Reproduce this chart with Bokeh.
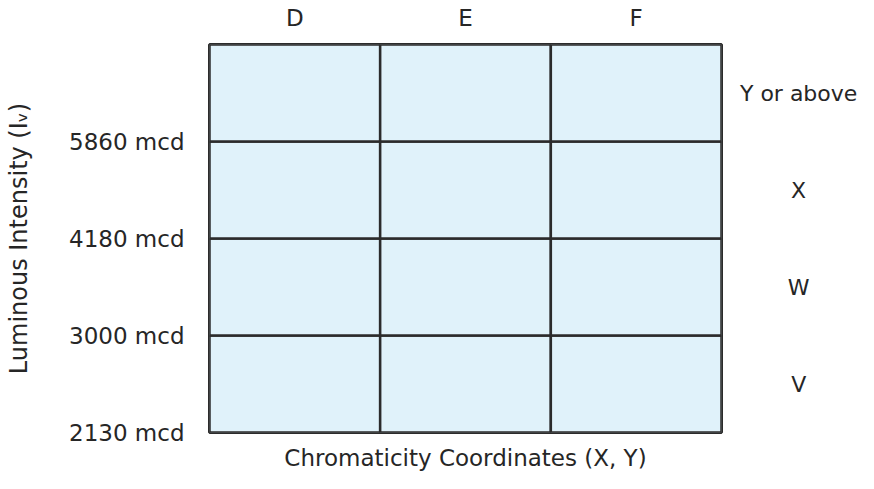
from bokeh.plotting import figure
from bokeh.models import Range1d, LinearAxis, FixedTicker, ColumnDataSource
from bokeh.layouts import row
from bokeh.core.properties import value
from bokeh.embed import file_html
from bokeh.resources import INLINE

# Data
columns = ["D", "E", "F"]
rows = ["V", "W", "X", "Y or above"]
bounds = ["2130 mcd", "3000 mcd", "4180 mcd", "5860 mcd"]
x_title = "Chromaticity Coordinates (X, Y)"
y_title = "Luminous Intensity (Iᵥ)"

FONT = "DejaVu Sans"
FS = "23px"
TXT = "#262626"
LINE = "#2b2b2b"
FILL = "#e0f2fa"

yr = Range1d(0, len(rows))
p = figure(width=725, height=473, output_backend="svg", toolbar_location=None,
           x_range=Range1d(0, len(columns)), y_range=yr,
           min_border_left=209, min_border_right=4, min_border_top=44,
           min_border_bottom=40, x_axis_location=None, y_axis_location=None)
p.grid.visible = False
p.outline_line_color = LINE
p.outline_line_width = 3
p.background_fill_color = FILL

# cells
left, right, bottom, top = [], [], [], []
for i, c in enumerate(columns):
    for j, r in enumerate(rows):
        left.append(i); right.append(i + 1); bottom.append(j); top.append(j + 1)
p.quad(left=left, right=right, bottom=bottom, top=top, fill_color=FILL,
       line_color=LINE, line_width=2.5)

# left axis: bin boundaries
ly = LinearAxis(ticker=FixedTicker(ticks=list(range(len(bounds)))),
                major_label_overrides={i: b for i, b in enumerate(bounds)},
                axis_label=y_title)
# top axis: columns
tx = LinearAxis(ticker=FixedTicker(ticks=[i + 0.5 for i in range(len(columns))]),
                major_label_overrides={i + 0.5: c for i, c in enumerate(columns)})
# bottom axis: title only
bx = LinearAxis(ticker=FixedTicker(ticks=[]), axis_label=x_title)

for ax in (ly, tx, bx):
    ax.axis_line_color = None
    ax.major_tick_line_color = None
    ax.minor_tick_line_color = None
    ax.major_tick_out = 0
    ax.major_tick_in = 0
    ax.major_label_text_font = FONT
    ax.major_label_text_font_size = FS
    ax.major_label_text_color = TXT
    ax.axis_label_text_font = FONT
    ax.axis_label_text_font_size = FS
    ax.axis_label_text_font_style = "normal"
    ax.axis_label_text_color = TXT

ly.axis_label_text_font_size = "24px"
ly.major_label_standoff = 25
ly.axis_label_standoff = 33
tx.major_label_standoff = 14
bx.axis_label_standoff = 12

p.add_layout(ly, "left")
p.add_layout(tx, "above")
p.add_layout(bx, "below")

# right-hand bin labels in a narrow companion panel
q = figure(width=133, height=473, output_backend="svg", toolbar_location=None,
           x_range=Range1d(0, 1), y_range=yr,
           min_border_left=0, min_border_right=0, min_border_top=44,
           min_border_bottom=40, x_axis_location=None, y_axis_location=None)
q.grid.visible = False
q.outline_line_color = None
src = ColumnDataSource(dict(x=[0.55] * len(rows),
                            y=[j + 0.5 for j in range(len(rows))], t=rows))
q.text(x="x", y="y", text="t", source=src, text_align="center",
       text_baseline="middle", text_font=value(FONT), text_font_size="22px",
       text_color=TXT)

layout = row(p, q, spacing=0)
open("out.html", "w").write(file_html(layout, INLINE))
